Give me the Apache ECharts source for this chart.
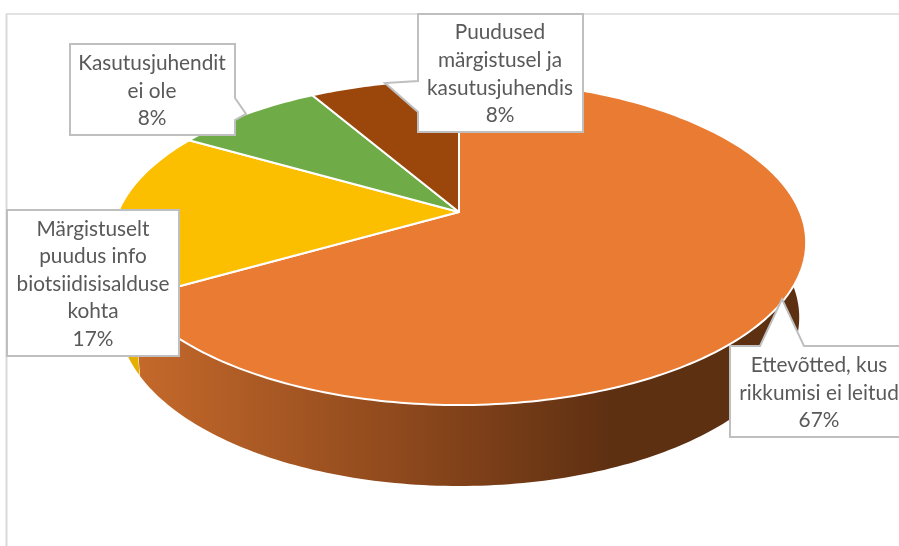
<!DOCTYPE html>
<html>
<head>
<meta charset="utf-8">
<title>Rikkumised</title>
<script src="https://cdn.jsdelivr.net/npm/echarts@6/dist/echarts.min.js"></script>
<style>
  html, body { margin: 0; padding: 0; background: #fff; }
  #pie3d { width: 899px; height: 546px; }
</style>
</head>
<body>
<div id="pie3d"></div>
<script>
// chart data, clockwise from 12 o'clock
const sliceNames = [
  "Ettevõtted, kus\nrikkumisi ei leitud",
  "Märgistuselt\npuudus info\nbiotsiidisisalduse\nkohta",
  "Kasutusjuhendit\nei ole",
  "Puudused\nmärgistusel ja\nkasutusjuhendis",
];
const sliceValues = [8, 2, 1, 1];

const topColors = ["#E97B33", "#FBBF00", "#6FAC47", "#9B470C"];
const sideColors = [null, "#E5AE00", "#557F35", "#6E330A"];

// callout outlines and text anchors, same order as the slices
const calloutOutlines = [
  [[730, 346], [760, 346], [782, 299], [804, 346], [912, 346], [912, 437], [730, 437]],
  [[7, 210], [179, 210], [179, 356], [7, 356]],
  [[70, 44], [235, 44], [235, 98], [246, 114], [235, 120], [235, 135], [70, 135]],
  [[418, 14], [583, 14], [583, 132], [418, 132], [418, 112], [385, 83], [418, 81]],
];
const calloutAnchors = [[819, 393], [93, 284], [152, 91], [500, 74]];

// tilted disc: a unit circle put through a perspective map so the apex sits above the ellipse centre
const apexX = 459, apexY = 212, radiusX = 341, tiltA = -117, tiltC = 0.1877;
function topPoint(deg) {
  const t = deg * Math.PI / 180, u = Math.sin(t), v = Math.cos(t), w = 1 + tiltC * v;
  return [apexX + radiusX * u / w, (tiltA * v + apexY) / w];
}
function bottomPoint(deg) {
  const p = topPoint(deg);
  return [apexX + (p[0] - apexX) * 0.98, p[1] * 1.037 + 66];
}
function arc(fn, a, b) {
  const pts = [];
  for (let d = a; d <= b; d += 1) pts.push(fn(d));
  pts.push(fn(b));
  return pts;
}

const total = sliceValues.reduce((s, v) => s + v, 0);
let run = 0;
const sliceRows = sliceValues.map((v, i) => {
  const start = run / total * 360;
  run += v;
  return [v, start, run / total * 360, i];
});

const sideGradient = new echarts.graphic.LinearGradient(135, 0, 610, 0, [
  { offset: 0, color: "#C5692B" },
  { offset: 0.66, color: "#84431A" },
  { offset: 1, color: "#5E3012" },
], true);

const option = {
  animation: false,
  graphic: [
    { type: "line", shape: { x1: 6, y1: 14, x2: 899, y2: 14 }, style: { stroke: "#D9D9D9", lineWidth: 1.5 } },
    { type: "line", shape: { x1: 6.5, y1: 14, x2: 6.5, y2: 546 }, style: { stroke: "#D9D9D9", lineWidth: 2 } },
  ],
  series: [
    {
      type: "custom",
      coordinateSystem: "none",
      silent: true,
      data: sliceRows,
      renderItem(params, api) {
        const a = api.value(1), b = api.value(2), i = api.value(3);
        const pts = arc(topPoint, a, b).concat(arc(bottomPoint, a, b).reverse());
        return {
          type: "group",
          children: [
            { type: "polygon", shape: { points: pts }, style: { fill: i === 0 ? sideGradient : sideColors[i] } },
            {
              type: "line",
              shape: { x1: topPoint(b)[0], y1: topPoint(b)[1], x2: bottomPoint(b)[0], y2: bottomPoint(b)[1] },
              style: { stroke: "#fff", lineWidth: 1 },
            },
          ],
        };
      },
    },
    {
      type: "custom",
      coordinateSystem: "none",
      silent: true,
      data: sliceRows,
      renderItem(params, api) {
        const a = api.value(1), b = api.value(2), i = api.value(3);
        const pts = [[apexX, apexY]].concat(arc(topPoint, a, b));
        return {
          type: "polygon",
          shape: { points: pts },
          style: { fill: topColors[i], stroke: "#fff", lineWidth: 2, lineJoin: "round" },
        };
      },
    },
    {
      type: "custom",
      coordinateSystem: "none",
      silent: true,
      data: sliceRows,
      renderItem(params, api) {
        const i = api.value(3);
        const pct = Math.round(api.value(0) / total * 100) + "%";
        return {
          type: "group",
          children: [
            {
              type: "polygon",
              shape: { points: calloutOutlines[i] },
              style: { fill: "#fff", stroke: "#BFBFBF", lineWidth: 2 },
            },
            {
              type: "text",
              style: {
                text: sliceNames[i] + "\n" + pct,
                x: calloutAnchors[i][0],
                y: calloutAnchors[i][1],
                align: "center",
                verticalAlign: "middle",
                fill: "#595959",
                font: '20.8px Lato, "Open Sans", sans-serif',
                lineHeight: 27.6,
              },
            },
          ],
        };
      },
    },
  ],
};

const myChart = echarts.init(document.getElementById("pie3d"), null, { renderer: "canvas" });
myChart.setOption(option);
</script>
</body>
</html>
